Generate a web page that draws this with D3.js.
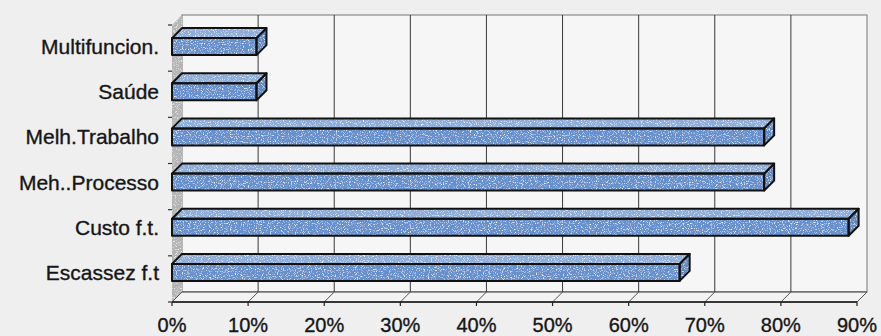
<!DOCTYPE html>
<html>
<head>
<meta charset="utf-8">
<script src="https://cdn.jsdelivr.net/npm/d3@7"></script>
<style>
  html, body { margin: 0; padding: 0; background: #efefef; }
  svg { display: block; }
  text { font-family: "Liberation Sans", Arial, sans-serif; fill: #161616; stroke: #161616; stroke-width: 0.35px; }
</style>
</head>
<body>
<svg id="chart" width="881" height="336"></svg>
<script>
// Categories top to bottom and their shares (%)
const categories = ["Multifuncion.", "Saúde", "Melh.Trabalho", "Meh..Processo", "Custo f.t.", "Escassez f.t"];
const values = [11.1, 11.1, 77.8, 77.8, 88.9, 66.7];
const tickValues = [0, 10, 20, 30, 40, 50, 60, 70, 80, 90];
const tickLabels = ["0%", "10%", "20%", "30%", "40%", "50%", "60%", "70%", "80%", "90%"];

const svg = d3.select("#chart");

// Oblique 3D projection: back plane is shifted right and up
const DX = 10, DY = -10;

const x = d3.scaleLinear().domain([0, 90]).range([172, 857]);
const yAxis = d3.scaleBand().domain(categories).range([25, 302]);
const yBar = d3.scaleBand().domain(categories).range([24, 295]);
const barH = 17;

const floorY = yAxis.range()[1];
const topY = yAxis.range()[0];

// light speckle for the printed look
const defs = svg.append("defs");
const f = defs.append("filter").attr("id", "grain").attr("x", 0).attr("y", 0).attr("width", 1).attr("height", 1);
f.append("feTurbulence").attr("type", "fractalNoise").attr("baseFrequency", 0.85).attr("numOctaves", 2).attr("seed", 5).attr("result", "n");
f.append("feColorMatrix").attr("in", "n").attr("type", "matrix")
  .attr("values", "0 0 0 0 1  0 0 0 0 1  0 0 0 0 1  0 0 0 -3 1.4").attr("result", "w");
f.append("feComposite").attr("in", "w").attr("in2", "SourceGraphic").attr("operator", "in").attr("result", "wc");
f.append("feMerge").selectAll("feMergeNode").data(["SourceGraphic", "wc"]).join("feMergeNode").attr("in", d => d);

const pt = (a) => a.map(p => p.join(",")).join(" ");

// Back wall
svg.append("rect")
  .attr("x", x(0) + DX).attr("y", topY + DY)
  .attr("width", x(90) - x(0)).attr("height", floorY - topY)
  .attr("fill", "#f6f6f6").attr("stroke", "#777").attr("stroke-width", 1);

// Left side wall
svg.append("polygon")
  .attr("points", pt([[x(0), topY], [x(0) + DX, topY + DY], [x(0) + DX, floorY + DY], [x(0), floorY]]))
  .attr("fill", "#b4b4b4").attr("filter", "url(#grain)");

// Floor
svg.append("polygon")
  .attr("points", pt([[x(0), floorY], [x(90), floorY], [x(90) + DX, floorY + DY], [x(0) + DX, floorY + DY]]))
  .attr("fill", "#f3f3f3").attr("stroke", "#333").attr("stroke-width", 1);

// Gridlines on back wall and floor
const grid = svg.append("g").attr("stroke", "#3a3a3a").attr("stroke-width", 1).attr("fill", "none");
grid.selectAll("line.v").data(tickValues.slice(1, -1)).join("line")
  .attr("x1", d => x(d) + DX).attr("x2", d => x(d) + DX)
  .attr("y1", topY + DY).attr("y2", floorY + DY);
grid.selectAll("line.d").data(tickValues).join("line")
  .attr("x1", d => x(d) + DX).attr("y1", floorY + DY)
  .attr("x2", d => x(d)).attr("y2", floorY)
  .attr("stroke", "#555");

// Front floor edge and value ticks
svg.append("line").attr("x1", x(0)).attr("x2", x(90)).attr("y1", floorY).attr("y2", floorY)
  .attr("stroke", "#1a1a1a").attr("stroke-width", 1.6);
svg.append("g").selectAll("line").data(tickValues).join("line")
  .attr("x1", d => x(d)).attr("x2", d => x(d))
  .attr("y1", floorY).attr("y2", floorY + 4)
  .attr("stroke", "#222").attr("stroke-width", 1.2);

// Category ticks on the front-left edge
svg.append("g").selectAll("line").data(categories.map(c => yAxis(c)).concat([floorY])).join("line")
  .attr("x1", x(0) - 4).attr("x2", x(0))
  .attr("y1", d => d).attr("y2", d => d)
  .attr("stroke", "#333").attr("stroke-width", 1.2);

// Value labels
svg.append("g").selectAll("text").data(tickValues).join("text")
  .attr("x", d => x(d)).attr("y", 332)
  .attr("text-anchor", "middle").attr("font-size", 20)
  .text((d, i) => tickLabels[i]);

// Bars as 3D boxes: textured faces, then crisp outlines
const barData = categories.map((c, i) => ({ c, v: values[i] }));
const faces = (d) => {
  const cy = yBar(d.c) + yBar.bandwidth() / 2;
  const y0 = cy - barH / 2, y1 = cy + barH / 2;
  const x0 = x(0), x1 = x(d.v);
  return {
    top: [[x0, y0], [x0 + DX, y0 + DY], [x1 + DX, y0 + DY], [x1, y0]],
    end: [[x1, y0], [x1 + DX, y0 + DY], [x1 + DX, y1 + DY], [x1, y1]],
    front: [[x0, y0], [x1, y0], [x1, y1], [x0, y1]]
  };
};

const bars = svg.append("g").selectAll("g").data(barData).join("g");
bars.each(function (d) {
  const g = d3.select(this);
  const fc = faces(d);
  const fill = g.append("g").attr("filter", "url(#grain)");
  fill.append("polygon").attr("points", pt(fc.top)).attr("fill", "#8eacd8");
  fill.append("polygon").attr("points", pt(fc.end)).attr("fill", "#6388be");
  fill.append("polygon").attr("points", pt(fc.front)).attr("fill", "#6690cd");
  const line = g.append("g").attr("fill", "none").attr("stroke", "#111")
    .attr("stroke-width", 2).attr("stroke-linejoin", "round");
  line.append("polygon").attr("points", pt(fc.top));
  line.append("polygon").attr("points", pt(fc.end));
  line.append("polygon").attr("points", pt(fc.front));
});

// Category labels
svg.append("g").selectAll("text").data(categories).join("text")
  .attr("x", 159)
  .attr("y", d => yBar(d) + yBar.bandwidth() / 2 + 7.5)
  .attr("text-anchor", "end").attr("font-size", 21)
  .text(d => d);
</script>
</body>
</html>
